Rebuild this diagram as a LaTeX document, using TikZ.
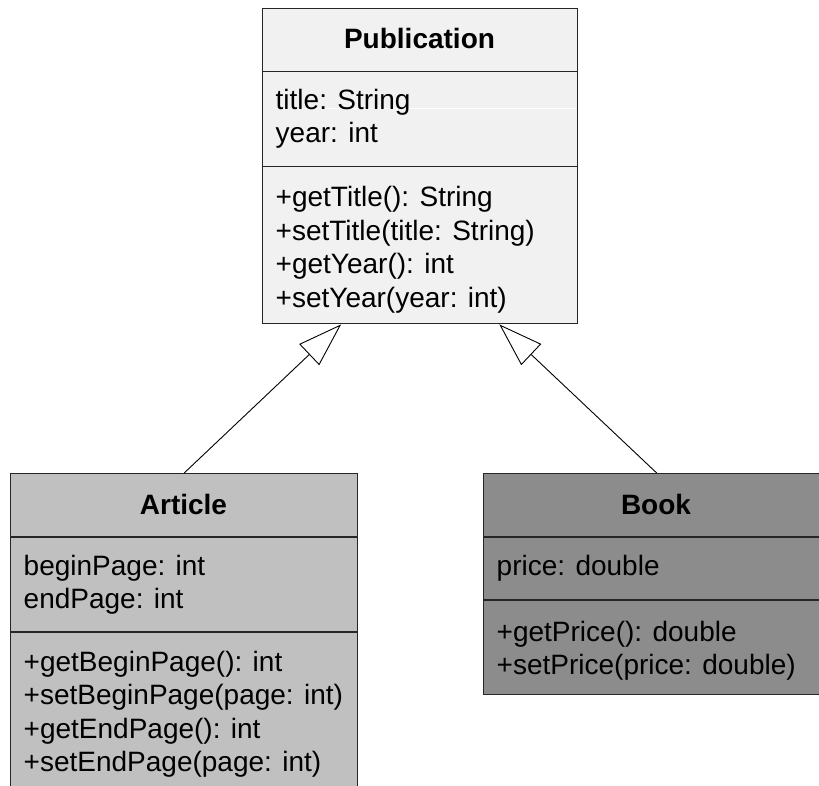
\documentclass[tikz,border=0pt]{standalone}
\usepackage{fontspec}
\setmainfont{Liberation Sans}
\usetikzlibrary{arrows.meta,calc}
\definecolor{pubfill}{HTML}{F1F1F1}
\definecolor{artfill}{HTML}{C0C0C0}
\definecolor{bookfill}{HTML}{8C8C8C}
\definecolor{edge}{HTML}{262626}
\tikzset{
  classbox/.style={draw=edge, line width=1.4pt, rectangle, inner sep=0pt, anchor=north west},
  divider/.style={draw=edge, line width=1.2pt},
  member/.style={anchor=base west, inner sep=0pt, font=\fontsize{28}{33}\selectfont},
  classname/.style={anchor=base, inner sep=0pt, font=\fontsize{28}{33}\selectfont\bfseries},
  gen/.style={draw=black, line width=0.9pt, -{Triangle[length=44pt, width=29pt, fill=white]}},
}
\begin{document}
\begin{tikzpicture}[x=1pt, y=-1pt]
\useasboundingbox (0,0) rectangle (819,786);

% Publication
\node[classbox, fill=pubfill, minimum width=315pt, minimum height=315pt] (pub) at (262,8) {};
\draw[divider] (pub.west |- 0,71.5) -- (pub.east |- 0,71.5);
\draw[divider] (pub.west |- 0,166.5) -- (pub.east |- 0,166.5);
\draw[white, line width=0.6pt] (275,108) -- (576,108);
\node[classname] (pubname) at (419.5,49) {Publication};
\node[member] (pa1) at (275.5,110) {title: String};
\node[member] (pa2) at (275.5,143) {year: int};
\node[member] (pm1) at (275.5,207) {+getTitle(): String};
\node[member] (pm2) at (275.5,240.5) {+setTitle(title: String)};
\node[member] (pm3) at (275.5,274) {+getYear(): int};
\node[member] (pm4) at (275.5,307.5) {+setYear(year: int)};

% Article
\node[classbox, fill=artfill, minimum width=347pt, minimum height=340pt] (art) at (10,473) {};
\draw[divider] (art.west |- 0,537) -- (art.east |- 0,537);
\draw[divider] (art.west |- 0,632) -- (art.east |- 0,632);
\node[classname] (artname) at (183.5,514) {Article};
\node[member] (aa1) at (23.5,575) {beginPage: int};
\node[member] (aa2) at (23.5,608.5) {endPage: int};
\node[member] (am1) at (23.5,671) {+getBeginPage(): int};
\node[member] (am2) at (23.5,704.5) {+setBeginPage(page: int)};
\node[member] (am3) at (23.5,738) {+getEndPage(): int};
\node[member] (am4) at (23.5,771.5) {+setEndPage(page: int)};

% Book
\node[classbox, fill=bookfill, minimum width=346pt, minimum height=221pt] (book) at (483,473) {};
\draw[divider] (book.west |- 0,537) -- (book.east |- 0,537);
\draw[divider] (book.west |- 0,600) -- (book.east |- 0,600);
\node[classname] (bookname) at (656,514) {Book};
\node[member] (ba1) at (496.5,575) {price: double};
\node[member] (bm1) at (496.5,641) {+getPrice(): double};
\node[member] (bm2) at (496.5,674.5) {+setPrice(price: double)};

% generalisations
\coordinate (tipA) at ($(pub.south west)!0.25!(pub.south east)$);
\coordinate (tipB) at ($(pub.south west)!0.75!(pub.south east)$);
\draw[gen] (art.north) -- (tipA);
\draw[gen] (book.north) -- (tipB);
\end{tikzpicture}
\end{document}
